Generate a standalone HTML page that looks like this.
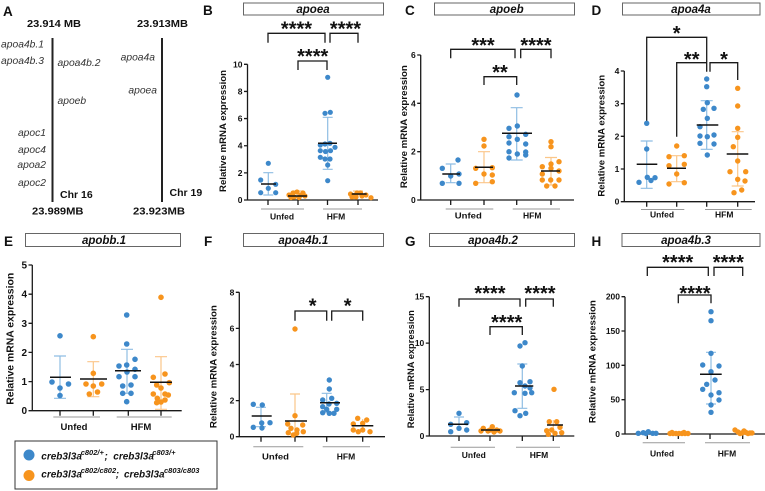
<!DOCTYPE html>
<html><head><meta charset="utf-8"><style>
html,body{margin:0;padding:0;background:#fff}
svg{display:block}
text{font-family:"Liberation Sans",Arial,Helvetica,sans-serif;fill:#111}
.ax{stroke:#1a1a1a;stroke-width:1.3;fill:none}
.ul{stroke:#9a9a9a;stroke-width:1;fill:none}
.br{stroke:#1a1a1a;stroke-width:1.3;fill:none}
.tl{font-weight:bold;font-size:8.5px;text-anchor:end}
.tlE{font-weight:bold;font-size:10px;text-anchor:end}
.xl{font-weight:bold;font-size:8.5px;text-anchor:middle}
.yl{font-weight:bold;font-size:9px;text-anchor:middle}
.st{font-weight:bold;font-size:20px;text-anchor:middle}
.pl{font-weight:bold;font-size:13.5px}
.mb{font-weight:bold;font-size:10.5px}
.ia{font-style:italic;font-size:10.3px;fill:#333}
.tt{font-weight:bold;font-style:italic;font-size:11.5px;text-anchor:middle}
.bx{fill:#fff;stroke:#666;stroke-width:1}
.b{fill:#3D88CA}
.o{fill:#F7941D}
.eb{stroke:#8FBDE3;stroke-width:1.2;fill:none}
.eo{stroke:#FBC689;stroke-width:1.2;fill:none}
.mn{stroke:#111;stroke-width:1.5;fill:none}
.lg{font-weight:bold;font-style:italic;font-size:10px}
.sp{font-size:7.5px}
</style></head><body>
<svg width="765" height="491" viewBox="0 0 765 491" xmlns="http://www.w3.org/2000/svg">
<rect width="765" height="491" fill="#fff"/>

<!-- Panel A -->
<text x="3" y="16" class="pl">A</text>
<text x="27" y="27" class="mb" textLength="54" lengthAdjust="spacingAndGlyphs">23.914 MB</text>
<text x="137" y="27" class="mb" textLength="51" lengthAdjust="spacingAndGlyphs">23.913MB</text>
<line x1="52.5" y1="38" x2="52.5" y2="202" stroke="#222" stroke-width="2"/>
<line x1="162" y1="38" x2="162" y2="202" stroke="#222" stroke-width="2"/>
<text x="44" y="47.5" class="ia" text-anchor="end">apoa4b.1</text>
<text x="44" y="64" class="ia" text-anchor="end">apoa4b.3</text>
<text x="57.5" y="66" class="ia">apoa4b.2</text>
<text x="57.5" y="104" class="ia">apoeb</text>
<text x="46" y="136" class="ia" text-anchor="end">apoc1</text>
<text x="46" y="153" class="ia" text-anchor="end">apoc4</text>
<text x="46" y="168" class="ia" text-anchor="end">apoa2</text>
<text x="46" y="186" class="ia" text-anchor="end">apoc2</text>
<text x="60" y="198" class="mb">Chr 16</text>
<text x="32" y="214.5" class="mb" textLength="51.5" lengthAdjust="spacingAndGlyphs">23.989MB</text>
<text x="155" y="60.5" class="ia" text-anchor="end">apoa4a</text>
<text x="157" y="93.5" class="ia" text-anchor="end">apoea</text>
<text x="169.5" y="196" class="mb">Chr 19</text>
<text x="133" y="214.5" class="mb" textLength="52" lengthAdjust="spacingAndGlyphs">23.923MB</text>

<!-- Titles -->
<text x="203" y="15" class="pl">B</text>
<rect x="243.5" y="3" width="140" height="12" class="bx"/>
<text x="313" y="12.8" class="tt">apoea</text>
<text x="405" y="15" class="pl">C</text>
<rect x="434.5" y="3" width="140" height="12" class="bx"/>
<text x="506.7" y="12.8" class="tt">apoeb</text>
<text x="591.5" y="15" class="pl">D</text>
<rect x="622.5" y="3" width="137.5" height="12" class="bx"/>
<text x="691" y="12.8" class="tt">apoa4a</text>
<text x="4" y="246" class="pl">E</text>
<rect x="25.5" y="233.5" width="155" height="13" class="bx"/>
<text x="104" y="243.8" class="tt">apobb.1</text>
<text x="204" y="246" class="pl">F</text>
<rect x="243.5" y="233.5" width="140" height="13" class="bx"/>
<text x="303.3" y="243.8" class="tt">apoa4b.1</text>
<text x="405" y="246" class="pl">G</text>
<rect x="429.5" y="233.5" width="145" height="13" class="bx"/>
<text x="493" y="243.8" class="tt">apoa4b.2</text>
<text x="591.5" y="246" class="pl">H</text>
<rect x="622" y="233.5" width="138" height="13" class="bx"/>
<text x="686" y="243.8" class="tt">apoa4b.3</text>

<!-- ===== Panel B ===== -->
<path class="ax" d="M247.5,64.3V200H378 M244,200H247.5 M244,172.86H247.5 M244,145.72H247.5 M244,118.58H247.5 M244,91.44H247.5 M244,64.3H247.5 M268,200V205 M298,200V205 M327.5,200V205 M358,200V205"/>
<text class="tl" x="242.5" y="203">0</text><text class="tl" x="242.5" y="175.9">2</text><text class="tl" x="242.5" y="148.7">4</text><text class="tl" x="242.5" y="121.6">6</text><text class="tl" x="242.5" y="94.4">8</text><text class="tl" x="242.5" y="67.3">10</text>
<path class="ul" d="M261,209H304 M323,209H362"/>
<text class="xl" x="282" y="219.5">Unfed</text><text class="xl" x="336" y="219.5">HFM</text>
<text class="yl" transform="translate(223,131) rotate(-90)" y="3" textLength="122" lengthAdjust="spacingAndGlyphs">Relative mRNA expression</text>
<path class="br" d="M268,42.7V33.3H325V42.7 M330,42.7V33.3H358V42.7 M298,70V61H327V70"/>
<text class="st" x="296.5" y="35.5">****</text><text class="st" x="345.5" y="35.5">****</text><text class="st" x="312.7" y="63.2">****</text>
<path class="eb" d="M268.3,172.7V195M263.3,172.7H273.3M263.3,195H273.3 M327.7,117.3V169.3M322.7,117.3H332.7M322.7,169.3H332.7"/>
<path class="eo" d="M298,191V199M293,191H303 M358,191V198M353,191H363"/>
<g class="b">
<circle cx="268.3" cy="163.3" r="2.6"/><circle cx="260.7" cy="180" r="2.6"/><circle cx="275.7" cy="184.3" r="2.6"/><circle cx="268.3" cy="188.3" r="2.6"/><circle cx="260.7" cy="192.7" r="2.6"/><circle cx="275.7" cy="192.7" r="2.6"/>
<circle cx="327.7" cy="77.3" r="2.6"/><circle cx="325" cy="113.3" r="2.6"/><circle cx="330.3" cy="112.3" r="2.6"/><circle cx="320.3" cy="145" r="2.6"/><circle cx="325" cy="144" r="2.6"/><circle cx="330" cy="143.3" r="2.6"/><circle cx="335" cy="147.3" r="2.6"/><circle cx="320.3" cy="150.7" r="2.6"/><circle cx="325.5" cy="151.5" r="2.6"/><circle cx="330.5" cy="150.7" r="2.6"/><circle cx="320.3" cy="157.3" r="2.6"/><circle cx="325" cy="159" r="2.6"/><circle cx="330" cy="159" r="2.6"/><circle cx="327.7" cy="165" r="2.6"/><circle cx="327.7" cy="180.7" r="2.6"/>
</g>
<g class="o">
<circle cx="289" cy="195" r="2.6"/><circle cx="293" cy="193" r="2.6"/><circle cx="297" cy="192" r="2.6"/><circle cx="301" cy="195" r="2.6"/><circle cx="305" cy="196" r="2.6"/><circle cx="294" cy="197" r="2.6"/><circle cx="299" cy="197.5" r="2.6"/><circle cx="303" cy="193" r="2.6"/><circle cx="291" cy="197.5" r="2.6"/>
<circle cx="350.5" cy="194" r="2.6"/><circle cx="354" cy="195.5" r="2.6"/><circle cx="357" cy="193" r="2.6"/><circle cx="360.5" cy="193" r="2.6"/><circle cx="362" cy="196" r="2.6"/><circle cx="356" cy="197" r="2.6"/><circle cx="366" cy="195" r="2.6"/><circle cx="371" cy="197.7" r="2.6"/><circle cx="352" cy="197" r="2.6"/>
</g>
<path class="mn" d="M261,184H276 M288,196H307 M318,143.3H337 M351.7,194H366.7"/>

<!-- ===== Panel C ===== -->
<path class="ax" d="M420.7,55V200H574 M417.2,200H420.7 M417.2,151.7H420.7 M417.2,103.3H420.7 M417.2,55H420.7 M450.7,200V205 M484,200V205 M516.7,200V205 M551,200V205"/>
<text class="tl" x="415.7" y="203">0</text><text class="tl" x="415.7" y="154.7">2</text><text class="tl" x="415.7" y="106.3">4</text><text class="tl" x="415.7" y="58">6</text>
<path class="ul" d="M445.7,209H493.3 M512.7,209H560"/>
<text class="xl" x="468.3" y="218.5" textLength="27" lengthAdjust="spacingAndGlyphs">Unfed</text><text class="xl" x="532.2" y="218.5">HFM</text>
<text class="yl" transform="translate(404,126.7) rotate(-90)" y="3" textLength="123" lengthAdjust="spacingAndGlyphs">Relative mRNA expression</text>
<path class="br" d="M450.7,58.3V49.3H515V58.3 M520.7,58.3V49.3H551V58.3 M484,85V76.7H516.7V85"/>
<text class="st" x="483" y="51.8">***</text><text class="st" x="536" y="51.8">****</text><text class="st" x="500" y="78.8">**</text>
<path class="eb" d="M450.7,164V182.7M445.7,164H455.7M445.7,182.7H455.7 M516.7,107.7V160M510.7,107.7H522.7M510.7,160H522.7"/>
<path class="eo" d="M484,151.7V182.7M478,151.7H490M478,182.7H490 M551,157.5V185M545,157.5H557M545,185H557"/>
<g class="b">
<circle cx="458" cy="160" r="2.7"/><circle cx="442.3" cy="168.3" r="2.7"/><circle cx="459" cy="174" r="2.7"/><circle cx="442.3" cy="183.3" r="2.7"/><circle cx="459" cy="183.3" r="2.7"/><circle cx="450.7" cy="176" r="2.7"/>
<circle cx="517" cy="95" r="2.7"/><circle cx="509" cy="128.3" r="2.7"/><circle cx="517.3" cy="126" r="2.7"/><circle cx="525.7" cy="134.3" r="2.7"/><circle cx="509" cy="136.7" r="2.7"/><circle cx="517.3" cy="139.3" r="2.7"/><circle cx="509" cy="143" r="2.7"/><circle cx="525.7" cy="144" r="2.7"/><circle cx="509" cy="151.7" r="2.7"/><circle cx="517.3" cy="154" r="2.7"/><circle cx="525.7" cy="152" r="2.7"/><circle cx="509" cy="158" r="2.7"/><circle cx="525.7" cy="155" r="2.7"/>
</g>
<g class="o">
<circle cx="484" cy="139.3" r="2.7"/><circle cx="484" cy="146" r="2.7"/><circle cx="475.7" cy="168.3" r="2.7"/><circle cx="492.3" cy="167.7" r="2.7"/><circle cx="492.3" cy="175" r="2.7"/><circle cx="475.7" cy="183.3" r="2.7"/><circle cx="492.3" cy="181.7" r="2.7"/><circle cx="484" cy="174" r="2.7"/>
<circle cx="551" cy="141.7" r="2.7"/><circle cx="551" cy="146.7" r="2.7"/><circle cx="559" cy="161.7" r="2.7"/><circle cx="551" cy="164" r="2.7"/><circle cx="542.3" cy="166.7" r="2.7"/><circle cx="551" cy="168.3" r="2.7"/><circle cx="559" cy="171" r="2.7"/><circle cx="542.3" cy="174" r="2.7"/><circle cx="559" cy="180" r="2.7"/><circle cx="542.3" cy="180" r="2.7"/><circle cx="546.7" cy="186" r="2.7"/><circle cx="555" cy="186" r="2.7"/><circle cx="550.7" cy="180" r="2.7"/>
</g>
<path class="mn" d="M442.3,174H460 M475,167.3H493 M502,133.3H532 M541,171H560"/>

<!-- ===== Panel D ===== -->
<path class="ax" d="M624.3,71V201.7H755 M620.8,201.7H624.3 M620.8,169H624.3 M620.8,136.3H624.3 M620.8,103.7H624.3 M620.8,71H624.3 M646.7,201.7V206.7 M676.7,201.7V206.7 M706.7,201.7V206.7 M737.7,201.7V206.7"/>
<text class="tl" x="619.3" y="204.7">0</text><text class="tl" x="619.3" y="172">1</text><text class="tl" x="619.3" y="139.3">2</text><text class="tl" x="619.3" y="106.7">3</text><text class="tl" x="619.3" y="74">4</text>
<path class="ul" d="M641,209.5H684.3 M705,209.5H751.7"/>
<text class="xl" x="662" y="217.5">Unfed</text><text class="xl" x="724.2" y="217.5">HFM</text>
<text class="yl" transform="translate(601.7,135.8) rotate(-90)" y="3" textLength="121.7" lengthAdjust="spacingAndGlyphs">Relative mRNA expression</text>
<path class="br" d="M646.7,125V37.3H706.7V70.7 M676.7,136.7V62.7H706.7V71.7 M710,71.7V62.7H737.7V80"/>
<text class="st" x="676.7" y="39.8">*</text><text class="st" x="691.7" y="66">**</text><text class="st" x="724" y="66">*</text>
<path class="eb" d="M646.7,141V188.3M640.7,141H652.7M640.7,188.3H652.7 M706.7,100.7V149.3M700.7,100.7H712.7M700.7,149.3H712.7"/>
<path class="eo" d="M676.7,155.7V181.7M670.7,155.7H682.7M670.7,181.7H682.7 M737.7,131.7V186M731.7,131.7H743.7M731.7,186H743.7"/>
<g class="b">
<circle cx="646.7" cy="123.3" r="2.7"/><circle cx="646.7" cy="149" r="2.7"/><circle cx="639" cy="182.3" r="2.7"/><circle cx="647.3" cy="177.3" r="2.7"/><circle cx="655" cy="177.7" r="2.7"/><circle cx="651" cy="180.5" r="2.7"/>
<circle cx="706.7" cy="79" r="2.7"/><circle cx="706.7" cy="86.7" r="2.7"/><circle cx="707.3" cy="102.7" r="2.7"/><circle cx="714" cy="108.3" r="2.7"/><circle cx="703.3" cy="109.3" r="2.7"/><circle cx="707.3" cy="118.3" r="2.7"/><circle cx="700" cy="126.7" r="2.7"/><circle cx="700" cy="136" r="2.7"/><circle cx="707.3" cy="136.7" r="2.7"/><circle cx="714" cy="135" r="2.7"/><circle cx="700" cy="143.3" r="2.7"/><circle cx="714" cy="144" r="2.7"/><circle cx="707.3" cy="155" r="2.7"/>
</g>
<g class="o">
<circle cx="676.7" cy="146" r="2.7"/><circle cx="669" cy="156.7" r="2.7"/><circle cx="684.3" cy="155.7" r="2.7"/><circle cx="669" cy="165.7" r="2.7"/><circle cx="684.3" cy="164.3" r="2.7"/><circle cx="669" cy="184" r="2.7"/><circle cx="684.3" cy="182.7" r="2.7"/><circle cx="676.7" cy="174" r="2.7"/>
<circle cx="737.7" cy="88.3" r="2.7"/><circle cx="737.7" cy="106" r="2.7"/><circle cx="737.7" cy="128.3" r="2.7"/><circle cx="737.7" cy="137.3" r="2.7"/><circle cx="733.3" cy="146.7" r="2.7"/><circle cx="737.7" cy="161" r="2.7"/><circle cx="730" cy="171.7" r="2.7"/><circle cx="745.7" cy="171.7" r="2.7"/><circle cx="737.7" cy="179.3" r="2.7"/><circle cx="734" cy="192.7" r="2.7"/><circle cx="741.7" cy="190" r="2.7"/><circle cx="745" cy="181" r="2.7"/>
</g>
<path class="mn" d="M636.7,164.3H657.3 M667,168.3H686 M696.7,125H718.3 M726.7,154H748.3"/>

<!-- ===== Panel E ===== -->
<path class="ax" d="M32.3,265V410.7H181.7 M28.5,410.7H32.3 M28.5,381.6H32.3 M28.5,352.4H32.3 M28.5,323.3H32.3 M28.5,294.2H32.3 M28.5,265H32.3 M60,410.7V415.7 M93.3,410.7V415.7 M128.3,410.7V415.7 M161,410.7V415.7"/>
<text class="tlE" x="27" y="414.2">0</text><text class="tlE" x="27" y="385.1">1</text><text class="tlE" x="27" y="355.9">2</text><text class="tlE" x="27" y="326.8">3</text><text class="tlE" x="27" y="297.7">4</text><text class="tlE" x="27" y="268.5">5</text>
<path class="ul" d="M53.3,417H100 M116.7,417H171.7"/>
<text class="xl" x="74" y="430" style="font-size:9.5px">Unfed</text><text class="xl" x="141" y="430" style="font-size:9.5px">HFM</text>
<text class="yl" transform="translate(10,338.8) rotate(-90)" y="3.5" style="font-size:10px" textLength="132" lengthAdjust="spacingAndGlyphs">Relative mRNA expression</text>
<path class="eb" d="M60,356V398.3M54,356H66M54,398.3H66 M127,349.3V393.3M121,349.3H133M121,393.3H133"/>
<path class="eo" d="M93.3,361.7V396.7M87.3,361.7H99.3M87.3,396.7H99.3 M161,356.7V409.3M155,356.7H167M155,409.3H167"/>
<g class="b">
<circle cx="60" cy="335.8" r="2.8"/><circle cx="52" cy="382" r="2.8"/><circle cx="68.5" cy="384" r="2.8"/><circle cx="60" cy="388" r="2.8"/><circle cx="60" cy="395.5" r="2.8"/>
<circle cx="126.7" cy="315" r="2.8"/><circle cx="126.7" cy="344" r="2.8"/><circle cx="135" cy="359.3" r="2.8"/><circle cx="119" cy="366" r="2.8"/><circle cx="126.7" cy="365" r="2.8"/><circle cx="135" cy="369.3" r="2.8"/><circle cx="135" cy="376.7" r="2.8"/><circle cx="119" cy="376.7" r="2.8"/><circle cx="122.7" cy="386" r="2.8"/><circle cx="131" cy="385" r="2.8"/><circle cx="131" cy="393.3" r="2.8"/><circle cx="122.7" cy="393.3" r="2.8"/><circle cx="126.7" cy="401.7" r="2.8"/><circle cx="127" cy="372" r="2.8"/>
</g>
<g class="o">
<circle cx="93.3" cy="336.7" r="2.8"/><circle cx="93.3" cy="373.3" r="2.8"/><circle cx="86" cy="384" r="2.8"/><circle cx="93.3" cy="386" r="2.8"/><circle cx="101.7" cy="384" r="2.8"/><circle cx="89.3" cy="394" r="2.8"/><circle cx="97.5" cy="392" r="2.8"/>
<circle cx="161" cy="297.3" r="2.8"/><circle cx="153.3" cy="377.3" r="2.8"/><circle cx="165" cy="374" r="2.8"/><circle cx="169.3" cy="382.7" r="2.8"/><circle cx="156.7" cy="385" r="2.8"/><circle cx="161" cy="388" r="2.8"/><circle cx="153.3" cy="394" r="2.8"/><circle cx="165" cy="394" r="2.8"/><circle cx="157.3" cy="398.3" r="2.8"/><circle cx="168.3" cy="395" r="2.8"/><circle cx="156.7" cy="402.7" r="2.8"/><circle cx="165" cy="400" r="2.8"/><circle cx="161" cy="402" r="2.8"/>
</g>
<path class="mn" d="M50,377.3H71 M80,379H107 M115,370.7H141 M150,382.3H172"/>

<!-- Legend -->
<rect x="15" y="441" width="202" height="48" fill="#fff" stroke="#333" stroke-width="1"/>
<circle cx="29" cy="455" r="5.5" class="b"/>
<circle cx="29" cy="475.5" r="5.5" class="o"/>
<text class="lg" y="459.3"><tspan x="41.3">creb3l3a</tspan><tspan class="sp" x="80.7" dy="-4.3">c802/+</tspan><tspan x="104.5" dy="4.3">;</tspan><tspan x="113.3">creb3l3a</tspan><tspan class="sp" x="152.3" dy="-4.3">c803/+</tspan></text>
<text class="lg" y="477.3"><tspan x="41.3">creb3l3a</tspan><tspan class="sp" x="80.7" dy="-4.3">c802/c802</tspan><tspan x="115.7" dy="4.3">;</tspan><tspan x="124">creb3l3a</tspan><tspan class="sp" x="164" dy="-4.3">c803/c803</tspan></text>

<!-- ===== Panel F ===== -->
<path class="ax" d="M239.3,292.3V436.7H385 M235.8,436.7H239.3 M235.8,400.6H239.3 M235.8,364.5H239.3 M235.8,328.4H239.3 M235.8,292.3H239.3 M261,436.7V441.7 M295,436.7V441.7 M326.7,436.7V441.7 M362.7,436.7V441.7"/>
<text class="tl" x="234.3" y="439.7">0</text><text class="tl" x="234.3" y="403.6">2</text><text class="tl" x="234.3" y="367.5">4</text><text class="tl" x="234.3" y="331.4">6</text><text class="tl" x="234.3" y="295.3">8</text>
<path class="ul" d="M253.3,446.7H303.3 M322.7,446.7H370"/>
<text class="xl" x="275.5" y="459.3" textLength="27" lengthAdjust="spacingAndGlyphs">Unfed</text><text class="xl" x="346" y="459.3">HFM</text>
<text class="yl" transform="translate(213.3,366.7) rotate(-90)" y="3" textLength="123" lengthAdjust="spacingAndGlyphs">Relative mRNA expression</text>
<path class="br" d="M295,320.7V311H326.7V320.7 M331.7,320.7V311H362.7V320.7"/>
<text class="st" x="312.7" y="312.5">*</text><text class="st" x="347.7" y="312.5">*</text>
<path class="eb" d="M261,407.3V426.7M256,407.3H266M256,426.7H266 M326.7,393.3V412.3M321.7,393.3H331.7M321.7,412.3H331.7"/>
<path class="eo" d="M295,394V436M290,394H300 M362.7,419V432"/>
<g class="b">
<circle cx="253.3" cy="404.3" r="2.7"/><circle cx="262.3" cy="405" r="2.7"/><circle cx="253.3" cy="427.3" r="2.7"/><circle cx="261.7" cy="423" r="2.7"/><circle cx="270" cy="422.7" r="2.7"/><circle cx="262" cy="428" r="2.7"/>
<circle cx="329.3" cy="380" r="2.7"/><circle cx="329.3" cy="389" r="2.7"/><circle cx="322.7" cy="400" r="2.7"/><circle cx="331.7" cy="398.3" r="2.7"/><circle cx="336.7" cy="403.3" r="2.7"/><circle cx="322.7" cy="406.7" r="2.7"/><circle cx="326.7" cy="409.3" r="2.7"/><circle cx="336.7" cy="409.3" r="2.7"/><circle cx="322.7" cy="412.7" r="2.7"/><circle cx="329.3" cy="413.3" r="2.7"/><circle cx="334" cy="413.3" r="2.7"/><circle cx="329" cy="404" r="2.7"/>
</g>
<g class="o">
<circle cx="295" cy="329" r="2.7"/><circle cx="295" cy="415.7" r="2.7"/><circle cx="287.7" cy="424" r="2.7"/><circle cx="302.7" cy="425" r="2.7"/><circle cx="291" cy="428.3" r="2.7"/><circle cx="297" cy="430" r="2.7"/><circle cx="288.3" cy="432.7" r="2.7"/><circle cx="296.7" cy="433.3" r="2.7"/><circle cx="303.3" cy="431.7" r="2.7"/><circle cx="293.3" cy="435" r="2.7"/>
<circle cx="357.7" cy="418.3" r="2.7"/><circle cx="366.7" cy="420" r="2.7"/><circle cx="353.3" cy="424" r="2.7"/><circle cx="362.7" cy="423.3" r="2.7"/><circle cx="353.3" cy="430" r="2.7"/><circle cx="362.7" cy="430" r="2.7"/><circle cx="370" cy="431.7" r="2.7"/><circle cx="358.3" cy="431.7" r="2.7"/>
</g>
<path class="mn" d="M251.7,416H271.7 M285,421H307 M320,402.7H340 M351.7,425.7H373.3"/>

<!-- ===== Panel G ===== -->
<path class="ax" d="M429.3,296.7V436H574.3 M425.8,436H429.3 M425.8,389.6H429.3 M425.8,343.1H429.3 M425.8,296.7H429.3 M459,436V441 M490,436V441 M522.3,436V441 M553.3,436V441"/>
<text class="tl" x="424.3" y="439">0</text><text class="tl" x="424.3" y="392.6">5</text><text class="tl" x="424.3" y="346.1">10</text><text class="tl" x="424.3" y="299.7">15</text>
<path class="ul" d="M450.7,447.3H495 M516,447.3H560"/>
<text class="xl" x="473.8" y="458">Unfed</text><text class="xl" x="539" y="458">HFM</text>
<text class="yl" transform="translate(411,369.2) rotate(-90)" y="3" textLength="118" lengthAdjust="spacingAndGlyphs">Relative mRNA expression</text>
<path class="br" d="M459,306.7V299H520V306.7 M525.7,306.7V299H553.3V306.7 M490,335V326.7H522.3V335"/>
<text class="st" x="490" y="299.8">****</text><text class="st" x="540" y="299.8">****</text><text class="st" x="506.7" y="328.8">****</text>
<path class="eb" d="M459,417V431M454,417H464 M522.3,364V408.3M517.3,364H527.3M517.3,408.3H527.3"/>
<path class="eo" d="M490,428V432 M553.3,420V433"/>
<g class="b">
<circle cx="459" cy="413.3" r="2.7"/><circle cx="466.7" cy="422.7" r="2.7"/><circle cx="450.7" cy="424.3" r="2.7"/><circle cx="459" cy="428.3" r="2.7"/><circle cx="466.7" cy="430" r="2.7"/><circle cx="450.7" cy="431.7" r="2.7"/>
<circle cx="525" cy="342.7" r="2.7"/><circle cx="520" cy="346" r="2.7"/><circle cx="522.3" cy="366" r="2.7"/><circle cx="530" cy="381.7" r="2.7"/><circle cx="520" cy="382.7" r="2.7"/><circle cx="525" cy="386" r="2.7"/><circle cx="531.7" cy="392.7" r="2.7"/><circle cx="514.3" cy="392.7" r="2.7"/><circle cx="525" cy="393.3" r="2.7"/><circle cx="515" cy="410.7" r="2.7"/><circle cx="525.7" cy="413.3" r="2.7"/><circle cx="520" cy="415.7" r="2.7"/><circle cx="530" cy="388" r="2.7"/>
</g>
<g class="o">
<circle cx="483.3" cy="428.3" r="2.7"/><circle cx="492.3" cy="426.7" r="2.7"/><circle cx="488" cy="431" r="2.7"/><circle cx="496.7" cy="430" r="2.7"/><circle cx="481" cy="431" r="2.7"/><circle cx="500" cy="431" r="2.7"/><circle cx="490" cy="430" r="2.7"/><circle cx="494" cy="432" r="2.7"/>
<circle cx="554" cy="389.3" r="2.7"/><circle cx="549.3" cy="421.7" r="2.7"/><circle cx="556.7" cy="421.7" r="2.7"/><circle cx="560" cy="427.3" r="2.7"/><circle cx="551.7" cy="430" r="2.7"/><circle cx="546.7" cy="430.7" r="2.7"/><circle cx="555" cy="433.3" r="2.7"/><circle cx="561.7" cy="432.7" r="2.7"/><circle cx="548.3" cy="434.3" r="2.7"/>
</g>
<path class="mn" d="M448,424.3H468 M481,430H500 M515,386H533.3 M547,425H563"/>

<!-- ===== Panel H ===== -->
<path class="ax" d="M625,296.7V434H765 M621.5,434H625 M621.5,399.7H625 M621.5,365.3H625 M621.5,331H625 M621.5,296.7H625 M647.3,434V439 M678.3,434V439 M710,434V439 M742.7,434V439"/>
<text class="tl" x="620" y="437">0</text><text class="tl" x="620" y="402.7">50</text><text class="tl" x="620" y="368.3">100</text><text class="tl" x="620" y="334">150</text><text class="tl" x="620" y="299.7">200</text>
<path class="ul" d="M642.7,442.7H685 M705,442.7H750"/>
<text class="xl" x="662" y="456.5">Unfed</text><text class="xl" x="727" y="456.5">HFM</text>
<text class="yl" transform="translate(592.7,361.7) rotate(-90)" y="3" textLength="123" lengthAdjust="spacingAndGlyphs">Relative mRNA expression</text>
<path class="br" d="M647.3,276V267.3H708.3V276 M714,276V267.3H742.7V276 M678.3,303.3V295H711V303.3"/>
<text class="st" x="677.7" y="268.8">****</text><text class="st" x="728.3" y="268.8">****</text><text class="st" x="695" y="299.8">****</text>
<path class="eb" d="M711,352.3V404M706,352.3H716M706,404H716"/>
<g class="b">
<circle cx="638.3" cy="433.3" r="2.7"/><circle cx="643.3" cy="432.7" r="2.7"/><circle cx="648.3" cy="431.7" r="2.7"/><circle cx="652.7" cy="433.3" r="2.7"/><circle cx="656" cy="433.3" r="2.7"/><circle cx="646" cy="433.5" r="2.7"/>
<circle cx="711" cy="311.7" r="2.7"/><circle cx="711" cy="320.7" r="2.7"/><circle cx="711" cy="353.3" r="2.7"/><circle cx="702.7" cy="365" r="2.7"/><circle cx="719" cy="366" r="2.7"/><circle cx="711" cy="371.7" r="2.7"/><circle cx="715" cy="380" r="2.7"/><circle cx="706.7" cy="384.3" r="2.7"/><circle cx="702.7" cy="389.3" r="2.7"/><circle cx="719" cy="392.7" r="2.7"/><circle cx="711" cy="395" r="2.7"/><circle cx="719" cy="400" r="2.7"/><circle cx="711" cy="405" r="2.7"/><circle cx="711" cy="412.3" r="2.7"/>
</g>
<g class="o">
<circle cx="670" cy="433.5" r="2.7"/><circle cx="673" cy="433.5" r="2.7"/><circle cx="676" cy="433.5" r="2.7"/><circle cx="679" cy="433.5" r="2.7"/><circle cx="682" cy="433.5" r="2.7"/><circle cx="685" cy="433.5" r="2.7"/><circle cx="688" cy="433.5" r="2.7"/><circle cx="672" cy="432.5" r="2.7"/><circle cx="684" cy="432.5" r="2.7"/>
<circle cx="735" cy="430" r="2.7"/><circle cx="738" cy="432" r="2.7"/><circle cx="742" cy="433" r="2.7"/><circle cx="746" cy="432.5" r="2.7"/><circle cx="750" cy="433" r="2.7"/><circle cx="740" cy="433.5" r="2.7"/><circle cx="744" cy="431" r="2.7"/><circle cx="748" cy="433.5" r="2.7"/><circle cx="752" cy="433" r="2.7"/>
</g>
<path class="mn" d="M700,374.3H721.7"/>
</svg>
</body></html>
